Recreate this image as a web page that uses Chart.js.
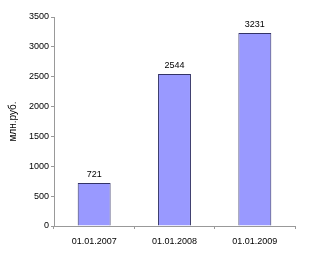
<!DOCTYPE html>
<html>
<head>
<meta charset="utf-8">
<script src="https://cdn.jsdelivr.net/npm/chart.js@4/dist/chart.umd.min.js"></script>
<style>
  html, body { margin: 0; padding: 0; background: #fff; }
  canvas { display: block; }
</style>
</head>
<body>
<canvas id="c" width="328" height="257"></canvas>
<script>
// data
const dates = ['01.01.2007', '01.01.2008', '01.01.2009'];
const amounts = [721, 2544, 3231];
const yTicks = [0, 500, 1000, 1500, 2000, 2500, 3000, 3500];

// value labels above the bars
const valueLabels = {
  id: 'valueLabels',
  afterDatasetsDraw(chart) {
    const ctx = chart.ctx;
    const meta = chart.getDatasetMeta(0);
    ctx.save();
    ctx.font = '9px "Liberation Sans", Arial, sans-serif';
    ctx.fillStyle = '#000';
    ctx.textAlign = 'center';
    ctx.textBaseline = 'bottom';
    meta.data.forEach((bar, i) => {
      ctx.fillText(String(amounts[i]), bar.x, bar.y - 4);
    });
    ctx.restore();
  }
};

new Chart(document.getElementById('c'), {
  type: 'bar',
  data: {
    labels: dates,
    datasets: [{
      data: amounts,
      backgroundColor: '#9999ff',
      borderColor: '#333366',
      borderWidth: 1,
      barPercentage: 0.41,
      categoryPercentage: 1
    }]
  },
  options: {
    responsive: false,
    animation: false,
    layout: { padding: { top: 17, right: 33, left: 7, bottom: 0 } },
    plugins: { legend: { display: false }, tooltip: { enabled: false } },
    scales: {
      x: {
        grid: { display: true, drawOnChartArea: false, offset: true, color: '#999', tickLength: 3 },
        border: { color: '#999' },
        ticks: { color: '#000', font: { size: 9, family: '"Liberation Sans", Arial, sans-serif' }, padding: 7, maxRotation: 0 },
        afterFit(scale) { scale.height = 31; }
      },
      y: {
        min: 0,
        max: 3500,
        afterBuildTicks(scale) { scale.ticks = yTicks.map(v => ({ value: v })); },
        grid: { display: true, drawOnChartArea: false, color: '#999', tickLength: 3 },
        border: { color: '#999' },
        ticks: { color: '#000', font: { size: 9, family: '"Liberation Sans", Arial, sans-serif' }, padding: 2, callback: v => String(v) },
        title: { display: true, text: 'млн.руб.', color: '#000', font: { size: 10, family: '"Liberation Sans", Arial, sans-serif' }, padding: { top: 0, bottom: 8 } },
        afterFit(scale) { scale.width = 47; }
      }
    }
  },
  plugins: [valueLabels]
});
</script>
</body>
</html>
